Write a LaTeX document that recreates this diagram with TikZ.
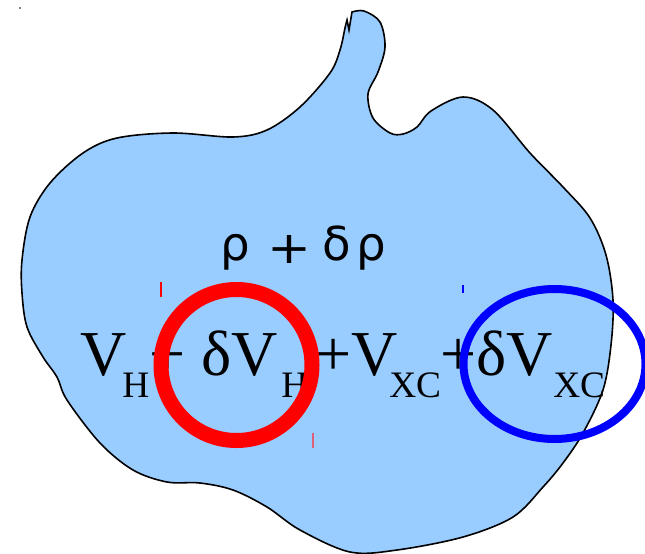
\documentclass[tikz,border=0pt]{standalone}
\usepackage{fontspec}
\setmainfont{Liberation Serif}
\newfontfamily\rhofont{DejaVu Sans}
\definecolor{blobfill}{HTML}{99CCFF}
\definecolor{tickpink}{HTML}{E0607A}
\begin{document}
\begin{tikzpicture}[x=0.75pt,y=-0.75pt,
  bigtxt/.style={inner sep=0pt,anchor=base west,font=\fontsize{48}{50}\selectfont},
  subtxt/.style={inner sep=0pt,anchor=base west,font=\fontsize{28}{30}\selectfont},
  rhotxt/.style={inner sep=0pt,anchor=base,font=\rhofont\fontsize{35}{37}\selectfont},
  ring/.style={draw=red,line width=11.25pt},
  oval/.style={draw=blue,line width=6pt}]
\useasboundingbox (0,0) rectangle (645,553);
% blob
\draw[fill=blobfill,draw=black,line width=1.2pt]
  plot[smooth,tension=0.55] coordinates {(352,12) (364,11) (380,22) (385,47) (378,72) (368,94) (373,118) (390,133) (403,134) (417,127) (431,111) (463,97) (493,110) (530,153) (563,187) (590,218) (606,255) (613,300) (611,345) (603,390) (583,433) (563,463) (543,487) (513,517) (463,537) (397,550) (350,552) (300,530) (267,507) (233,490) (200,483) (167,482) (133,470) (100,443) (67,400) (57,377) (43,357) (27,327) (22,293) (22,260) (30,217) (50,183) (83,153) (117,138) (173,133) (233,137) (267,130) (300,107) (330,73) (340,50) (345,28) (347,20)}
  -- (349,30) -- cycle;
% rho line
\node[rhotxt] (r1) at (235.5,260) {ρ};
\node[inner sep=0pt,anchor=base] (rp) at (289,263) {\rhofont\resizebox{33pt}{21pt}{+}};
\node[rhotxt] (r2) at (336.5,260) {δ};
\node[rhotxt] (r3) at (371,260) {ρ};
% equation
\node[bigtxt] (v1) at (80,375) {V};
\node[subtxt] (h1) at (122,397) {H};
\node[bigtxt] (v2) at (149,375) {+ δV};
\node[subtxt] (h2) at (281,397) {H};
\node[bigtxt] (v3) at (315,375) {+V};
\node[subtxt] (x1) at (389,397) {XC};
\node[bigtxt] (v4) at (440,375) {+δV};
\node[subtxt] (x2) at (553,397) {XC};
% rings
\draw[ring] (236.5,365) circle (75.5);
\draw[oval] (554.5,364) ellipse (91 and 75);
% ticks
\draw[red,line width=0.9pt] (161,282) -- (161,297);
\draw[blue,line width=0.9pt] (463,285) -- (463,293);
\draw[tickpink,line width=1.4pt] (313,433) -- (313,448);
\fill[gray] (19,7) rectangle (21,9);
\end{tikzpicture}
\end{document}
